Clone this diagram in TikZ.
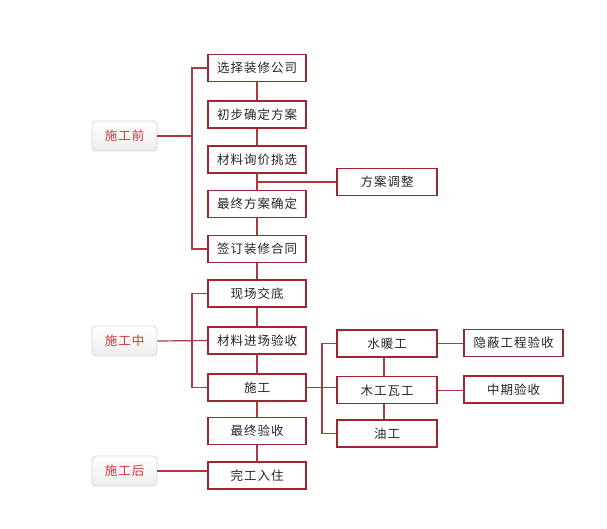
\documentclass[tikz,border=0pt]{standalone}
\usepackage{fontspec}
\newfontfamily\cjk[LetterSpace=8]{Noto Sans CJK SC}
\definecolor{boxred}{RGB}{158,38,48}
\definecolor{linered}{RGB}{172,58,64}
\definecolor{labred}{RGB}{214,52,58}
\definecolor{labgray}{RGB}{214,214,214}
\begin{document}
\begin{tikzpicture}[x=1pt,y=-1pt,
  stepbox/.style={draw=boxred,line width=1.3pt,fill=white,minimum width=98pt,minimum height=27pt,inner sep=0pt,font=\cjk\fontsize{12.5}{14}\selectfont,text=black!85},
  subbox/.style={stepbox,minimum width=100pt},
  phase/.style={draw=labgray,line width=0.8pt,rounded corners=4pt,top color=white,bottom color=black!7,minimum width=65pt,minimum height=30pt,inner sep=0pt,font=\cjk\fontsize{12.5}{14}\selectfont,text=labred},
  conn/.style={draw=linered,line width=1.2pt}]
\useasboundingbox (0,0) rectangle (607,529);
% main column
\node[stepbox] (b1) at (257,68) {选择装修公司};
\node[stepbox] (b2) at (257,114.5) {初步确定方案};
\node[stepbox] (b3) at (257,159.5) {材料询价挑选};
\node[stepbox] (b4) at (257,204) {最终方案确定};
\node[stepbox] (b5) at (257,249) {签订装修合同};
\node[stepbox] (b6) at (257,293.5) {现场交底};
\node[stepbox] (b7) at (257,340.5) {材料进场验收};
\node[stepbox] (b8) at (257,387.5) {施工};
\node[stepbox] (b9) at (257,431) {最终验收};
\node[stepbox] (b10) at (257,475.5) {完工入住};
% side boxes
\node[subbox] (adj) at (387,182) {方案调整};
\node[subbox] (s1) at (387,343.5) {水暖工};
\node[subbox] (s2) at (387,390.3) {木工瓦工};
\node[subbox] (s3) at (387,433.5) {油工};
\node[stepbox,minimum width=99pt] (r1) at (513.5,343) {隐蔽工程验收};
\node[stepbox,minimum width=99pt] (r2) at (513.5,389.5) {中期验收};
% phase labels
\node[phase] (pre) at (124.5,136) {施工前};
\node[phase] (mid) at (124.5,341) {施工中};
\node[phase] (post) at (124.5,471) {施工后};
% bracket coordinates
\coordinate (k1) at (192,0);
\coordinate (k2) at (322,0);
% connectors
\begin{scope}[on background layer/.style={}]
\draw[conn] (b1) -- (b2);
\draw[conn] (b2) -- (b3);
\draw[conn] (b3) -- (b4);
\draw[conn] (b4) -- (b5);
\draw[conn] (b5) -- (b6);
\draw[conn] (b6) -- (b7);
\draw[conn] (b7) -- (b8);
\draw[conn] (b8) -- (b9);
\draw[conn] (b9) -- (b10);
\draw[conn] (adj.west) -- (adj.west -| b3.south);
\draw[conn] (b1.west) -- (b1.west -| k1) -- (b5.west -| k1) -- (b5.west);
\draw[conn] (pre.east) -- (pre.east -| k1);
\draw[conn] (b6.west) -- (b6.west -| k1) -- (b8.west -| k1) -- (b8.west);
\draw[conn] (mid.east) -- (b7.west);
\draw[conn] (post.east) -- (post.east -| b10.west);
\draw[conn] (b8.east) -- (b8.east -| s2.west);
\draw[conn] (s1.west) -- (s1.west -| k2) -- (s3.west -| k2) -- (s3.west);
\draw[conn] ([xshift=-3pt]s1.south) -- ([xshift=-3pt]s2.north);
\draw[conn] ([xshift=-3pt]s2.south) -- ([xshift=-3pt]s3.north);
\draw[conn] (s1.east) -- (r1.west |- s1.east);
\draw[conn] (s2.east) -- (r2.west |- s2.east);
\end{scope}
\end{tikzpicture}
\end{document}
